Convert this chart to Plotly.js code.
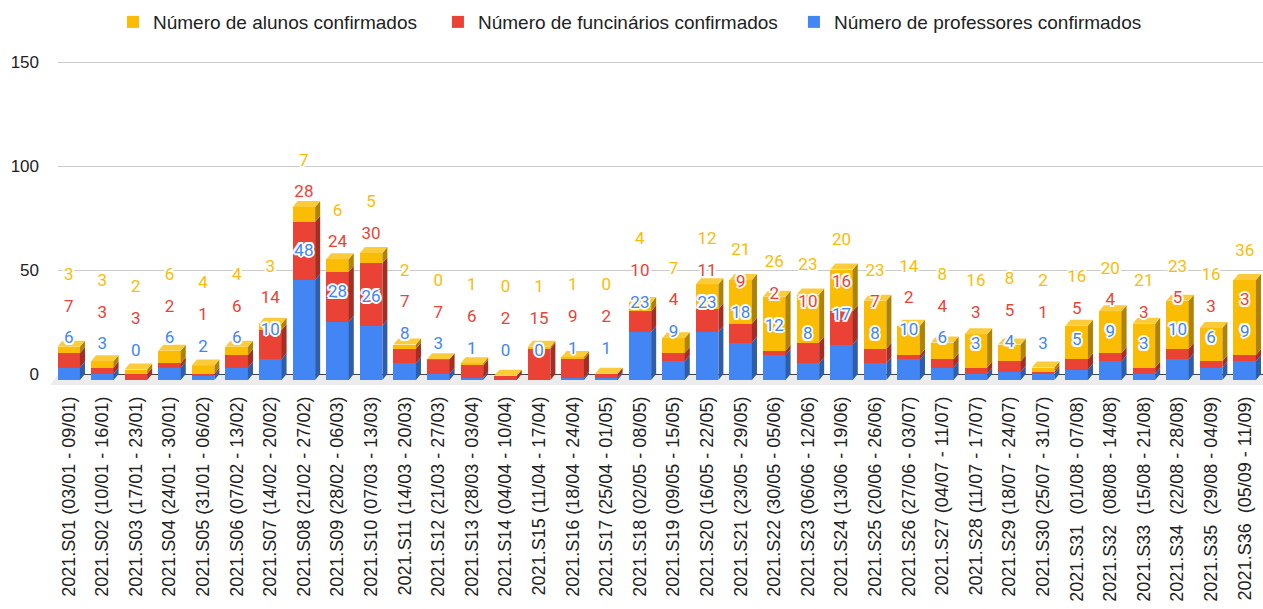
<!DOCTYPE html>
<html>
<head>
<meta charset="utf-8">
<script src="https://cdn.plot.ly/plotly-3.0.1.min.js"></script>
<style>html,body{margin:0;padding:0;background:#fff;}#chart{width:1263px;height:609px;}</style>
</head>
<body>
<div id="chart"></div>
<script>
const categories = [
  "2021.S01 (03/01 - 09/01)", "2021.S02 (10/01 - 16/01)", "2021.S03 (17/01 - 23/01)",
  "2021.S04 (24/01 - 30/01)", "2021.S05 (31/01 - 06/02)", "2021.S06 (07/02 - 13/02)",
  "2021.S07 (14/02 - 20/02)", "2021.S08 (21/02 - 27/02)", "2021.S09 (28/02 - 06/03)",
  "2021.S10 (07/03 - 13/03)", "2021.S11 (14/03 - 20/03)", "2021.S12 (21/03 - 27/03)",
  "2021.S13 (28/03 - 03/04)", "2021.S14 (04/04 - 10/04)", "2021.S15 (11/04 - 17/04)",
  "2021.S16 (18/04 - 24/04)", "2021.S17 (25/04 - 01/05)", "2021.S18 (02/05 - 08/05)",
  "2021.S19 (09/05 - 15/05)", "2021.S20 (16/05 - 22/05)", "2021.S21 (23/05 - 29/05)",
  "2021.S22 (30/05 - 05/06)", "2021.S23 (06/06 - 12/06)", "2021.S24 (13/06 - 19/06)",
  "2021.S25 (20/06 - 26/06)", "2021.S26 (27/06 - 03/07)", "2021.S27 (04/07 - 11/07)",
  "2021.S28 (11/07 - 17/07)", "2021.S29 (18/07 - 24/07)", "2021.S30 (25/07 - 31/07)",
  "2021.S31 \u00a0(01/08 - 07/08)", "2021.S32 \u00a0(08/08 - 14/08)", "2021.S33 \u00a0(15/08 - 21/08)",
  "2021.S34 \u00a0(22/08 - 28/08)", "2021.S35 \u00a0(29/08 - 04/09)", "2021.S36 \u00a0(05/09 - 11/09)"
];
const professores = [6,3,0,6,2,6,10,48,28,26,8,3,1,0,0,1,1,23,9,23,18,12,8,17,8,10,6,3,4,3,5,9,3,10,6,9];
const funcionarios = [7,3,3,2,1,6,14,28,24,30,7,7,6,2,15,9,2,10,4,11,9,2,10,16,7,2,4,3,5,1,5,4,3,5,3,3];
const alunos = [3,3,2,6,4,4,3,7,6,5,2,0,1,0,1,1,0,4,7,12,21,26,23,20,23,14,8,16,8,2,16,20,21,23,16,36];
const seriesNames = ["Número de professores confirmados", "Número de funcinários confirmados", "Número de alunos confirmados"];
const yTicks = [0, 50, 100, 150];

const idx = categories.map((_, i) => i);
const W = 0.67, DX = 0.15, DY = 2.9;
const LABEL_OFF = 13.7, LABEL_GAP = 15.2;

const series = [
  {name: seriesNames[0], values: professores, color: "#4285F4", side: "#2E5DAA", lw: undefined},
  {name: seriesNames[1], values: funcionarios, color: "#EA4335", side: "#A32E24", lw: 311},
  {name: seriesNames[2], values: alunos, color: "#FBBC04", side: "#AE8304", lw: 280}
];

const traces = [{x: [], y: [], type: "scatter", mode: "markers", showlegend: false, hoverinfo: "skip", xaxis: "x", yaxis: "y"}];

// front faces
series.forEach(s => {
  const tr = {
    type: "bar", x: idx, y: s.values, name: s.name, width: W,
    marker: {color: s.color}, xaxis: "x", yaxis: "y2", hoverinfo: "y+name"
  };
  if (s.lw) tr.legendwidth = s.lw;
  traces.push(tr);
});

// side faces
const cum = idx.map(() => 0);
series.forEach(s => {
  const fx = [], fy = [];
  idx.forEach(i => {
    const b = cum[i], t = b + s.values[i];
    if (s.values[i] > 0) {
      const xr = i + W / 2;
      fx.push(xr, xr + DX, xr + DX, xr, xr, null);
      fy.push(b, b + DY, t + DY, t, b, null);
    }
    cum[i] = t;
  });
  traces.push({type: "scatter", mode: "lines", x: fx, y: fy, fill: "toself", fillcolor: s.side,
    line: {width: 0, color: s.side}, showlegend: false, hoverinfo: "skip", xaxis: "x", yaxis: "y2"});
});

// top faces
{
  const fx = [], fy = [];
  idx.forEach(i => {
    const T = cum[i], xl = i - W / 2, xr = i + W / 2;
    fx.push(xl, xl + DX, xr + DX, xr, xl, null);
    fy.push(T, T + DY, T + DY, T, T, null);
  });
  traces.push({type: "scatter", mode: "lines", x: fx, y: fy, fill: "toself", fillcolor: "#FCCB3A",
    line: {width: 0, color: "#FCCB3A"}, showlegend: false, hoverinfo: "skip", xaxis: "x", yaxis: "y2"});
}

// data labels
const halo = "2px 0 0 #fff, -2px 0 0 #fff, 0 2px 0 #fff, 0 -2px 0 #fff, 1.5px 1.5px 0 #fff, -1.5px -1.5px 0 #fff, 1.5px -1.5px 0 #fff, -1.5px 1.5px 0 #fff";
const cum2 = idx.map(() => 0);
const prev = idx.map(() => -Infinity);
series.forEach(s => {
  const ly = [];
  idx.forEach(i => {
    cum2[i] += s.values[i];
    const y = Math.max(cum2[i] + LABEL_OFF, prev[i] + LABEL_GAP);
    prev[i] = y;
    ly.push(y);
  });
  traces.push({type: "scatter", mode: "text", x: idx, y: ly, text: s.values.map(String),
    textposition: "middle center", cliponaxis: false,
    textfont: {family: "Roboto, Arial, sans-serif", size: 17, color: s.color, shadow: halo},
    showlegend: false, hoverinfo: "skip", xaxis: "x", yaxis: "y2"});
});

const layout = {
  width: 1263, height: 609,
  margin: {l: 58, r: 0, t: 50, b: 217},
  paper_bgcolor: "#fff", plot_bgcolor: "rgba(0,0,0,0)",
  barmode: "stack",
  showlegend: true,
  legend: {orientation: "h", x: 0.0456, xanchor: "left", yref: "container", y: 0.995, yanchor: "top",
    traceorder: "reversed", font: {family: "Arial, 'Liberation Sans', sans-serif", size: 19, color: "#222"}},
  xaxis: {type: "linear", range: [-0.318, 35.545], tickmode: "array", tickvals: idx, ticktext: categories,
    tickangle: -90, tickfont: {family: "Arial, 'Liberation Sans', sans-serif", size: 18, color: "#222"},
    showgrid: false, zeroline: false, showline: false, ticks: "", fixedrange: true},
  yaxis: {range: [-8.4, 155.76], tickmode: "array", tickvals: yTicks, ticktext: yTicks.map(String),
    showgrid: true, gridcolor: "#cccccc", gridwidth: 1, zeroline: true, zerolinecolor: "#444", zerolinewidth: 1.5,
    ticks: "", ticklabelstandoff: 18, tickfont: {family: "Arial, 'Liberation Sans', sans-serif", size: 17, color: "#222"},
    showline: false},
  yaxis2: {overlaying: "y", range: [-5.76, 158.4], visible: false, showgrid: false, zeroline: false},
  shapes: [{type: "path", xref: "paper", yref: "y2", layer: "below",
    path: "M -0.0066,-2.4 L 1,-2.4 L 1,2.64 L 0,2.64 Z", fillcolor: "#ececec", line: {width: 0}}]
};

Plotly.newPlot("chart", traces, layout, {displayModeBar: false, staticPlot: true});
</script>
</body>
</html>
